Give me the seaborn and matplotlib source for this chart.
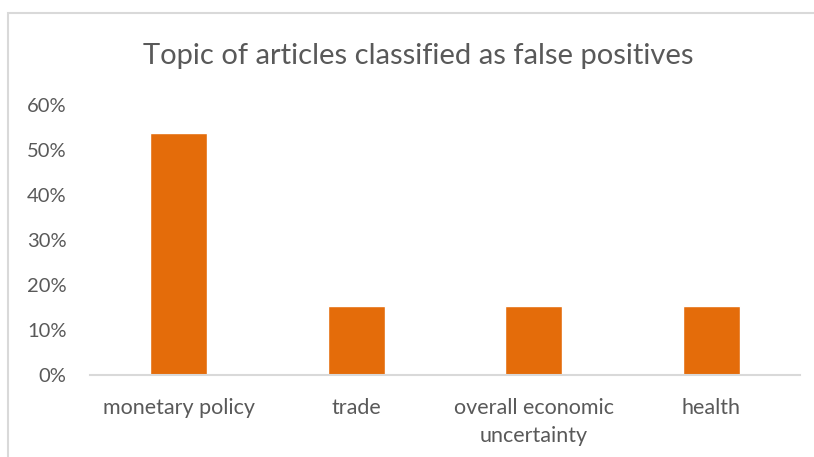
import numpy as np
import pandas as pd
import matplotlib.pyplot as plt
import seaborn as sns
from matplotlib.patches import Rectangle
from matplotlib.ticker import PercentFormatter

# data
topics = ["monetary policy", "trade", "overall economic\nuncertainty", "health"]
shares = [0.538, 0.154, 0.154, 0.154]
yticks = [0, 0.1, 0.2, 0.3, 0.4, 0.5, 0.6]

sns.set_style("white")
plt.rcParams['font.family'] = ['Lato', 'DejaVu Sans']

df = pd.DataFrame({"topic": topics, "share": shares})

fig = plt.figure(figsize=(8.14, 4.57), dpi=100)
ax = fig.add_axes([90 / 814, 1 - 375 / 457, 710 / 814, 270 / 457])

sns.barplot(data=df, x="topic", y="share", color="#E46C0A", width=0.32,
            saturation=1, ax=ax)

ax.set_xlim(-0.5, 3.5)
ax.set_ylim(0, 0.6)
ax.set_yticks(yticks)
ax.yaxis.set_major_formatter(PercentFormatter(1.0, decimals=0))
ax.set_xlabel("")
ax.set_ylabel("")
ax.tick_params(axis="both", length=0, labelsize=14.5, colors="#595959")
ax.tick_params(axis="y", pad=17)
ax.tick_params(axis="x", pad=16.5)
for lbl in ax.get_xticklabels():
    lbl.set_linespacing(1.5)
    lbl.set_fontsize(15.5)

for s in ["left", "right", "top"]:
    ax.spines[s].set_visible(False)
ax.spines["bottom"].set_color("#D9D9D9")
ax.spines["bottom"].set_linewidth(1.5)

fig.text(418 / 814, 1 - 56 / 457, "Topic of articles classified as false positives",
         ha="center", va="center", fontsize=21, color="#595959")

# chart border
fig.patches.append(Rectangle((8 / 814, -0.05), 1.0, 1 - 13 / 457 + 0.05,
                             transform=fig.transFigure, fill=False,
                             edgecolor="#D9D9D9", linewidth=1.5))

fig.savefig("out.png", dpi=100)
